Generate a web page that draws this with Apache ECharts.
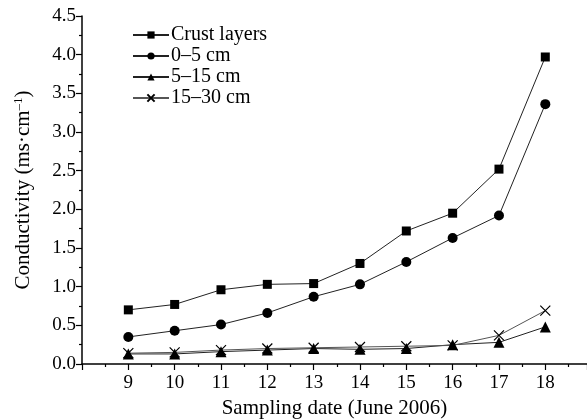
<!DOCTYPE html>
<html>
<head>
<meta charset="utf-8">
<script src="https://cdn.jsdelivr.net/npm/echarts@6/dist/echarts.min.js"></script>
<style>
  html, body { margin: 0; padding: 0; background: #fff; }
  #chart { width: 587px; height: 419px; }
</style>
</head>
<body>
<div id="chart"></div>
<script>
// sampling days (June 2006)
var days = [9, 10, 11, 12, 13, 14, 15, 16, 17, 18];
var crust = [0.70, 0.77, 0.96, 1.03, 1.04, 1.30, 1.72, 1.95, 2.52, 3.97];
var d0_5 = [0.35, 0.43, 0.51, 0.66, 0.87, 1.03, 1.32, 1.63, 1.92, 3.36];
var d5_15 = [0.13, 0.13, 0.16, 0.18, 0.20, 0.19, 0.20, 0.25, 0.28, 0.48];
var d15_30 = [0.14, 0.15, 0.18, 0.20, 0.21, 0.22, 0.23, 0.24, 0.37, 0.69];
var seriesNames = ['Crust layers', '0–5 cm', '5–15 cm', '15–30 cm'];

function pairs(vals) {
  return days.map(function (d, i) { return [d, vals[i]]; });
}

var font = 'Liberation Serif';
var chart = echarts.init(document.getElementById('chart'));

function mkSeries(name, vals, symbol, size, color) {
  return {
    name: name,
    type: 'line',
    data: pairs(vals),
    symbol: symbol,
    symbolSize: size,
    lineStyle: { color: color, width: 1 },
    itemStyle: symbol.indexOf('path://') === 0
      ? { color: 'none', borderColor: '#000', borderWidth: 1.2 }
      : { color: '#000', borderWidth: 0 },
    emphasis: { disabled: true }
  };
}

var option = {
  animation: false,
  backgroundColor: '#fff',
  textStyle: { fontFamily: font },
  grid: { left: 82, right: 0, top: 16, bottom: 55, containLabel: false, outerBoundsMode: 'none' },
  legend: {
    orient: 'vertical',
    left: 127,
    top: 20,
    itemWidth: 36,
    itemHeight: 9,
    itemGap: 1,
    data: seriesNames,
    textStyle: { fontFamily: font, fontSize: 20, color: '#000', padding: [0, 0, 0, -3] }
  },
  xAxis: {
    type: 'value',
    min: 8,
    max: 18.9,
    interval: 1,
    name: 'Sampling date (June 2006)',
    nameLocation: 'middle',
    nameGap: 34,
    nameTextStyle: { fontFamily: font, fontSize: 21, color: '#000' },
    axisLine: { onZero: false, lineStyle: { color: '#000', width: 1.5 } },
    axisTick: { inside: false, length: 6, lineStyle: { color: '#000', width: 1.2 } },
    minorTick: { show: true, splitNumber: 2, length: 3, lineStyle: { color: '#000', width: 1.2 } },
    splitLine: { show: false },
    axisLabel: {
      fontFamily: font, fontSize: 19, color: '#000', margin: 10,
      formatter: function (v) { return (v >= 9 && v <= 18 && v % 1 === 0) ? String(v) : ''; }
    }
  },
  yAxis: {
    type: 'value',
    min: 0,
    max: 4.5,
    interval: 0.5,
    name: 'Conductivity (ms·cm{sup|–1})',
    nameLocation: 'middle',
    nameGap: 48,
    nameTextStyle: {
      fontFamily: font, fontSize: 21, color: '#000',
      rich: { sup: { fontFamily: font, fontSize: 13, verticalAlign: 'top', padding: [0, 0, 9, 0] } }
    },
    axisLine: { show: true, lineStyle: { color: '#000', width: 1.5 } },
    axisTick: { inside: false, length: 6, lineStyle: { color: '#000', width: 1.2 } },
    minorTick: { show: true, splitNumber: 2, length: 3, lineStyle: { color: '#000', width: 1.2 } },
    splitLine: { show: false },
    axisLabel: {
      fontFamily: font, fontSize: 19, color: '#000', margin: 6,
      formatter: function (v) { return v.toFixed(1); }
    }
  },
  series: [
    mkSeries(seriesNames[0], crust, 'rect', 9, '#222'),
    mkSeries(seriesNames[1], d0_5, 'circle', 10, '#222'),
    mkSeries(seriesNames[2], d5_15, 'triangle', 11, '#222'),
    mkSeries(seriesNames[3], d15_30, 'path://M0,0L10,10M10,0L0,10', 10, '#555')
  ]
};

chart.setOption(option);
</script>
</body>
</html>
